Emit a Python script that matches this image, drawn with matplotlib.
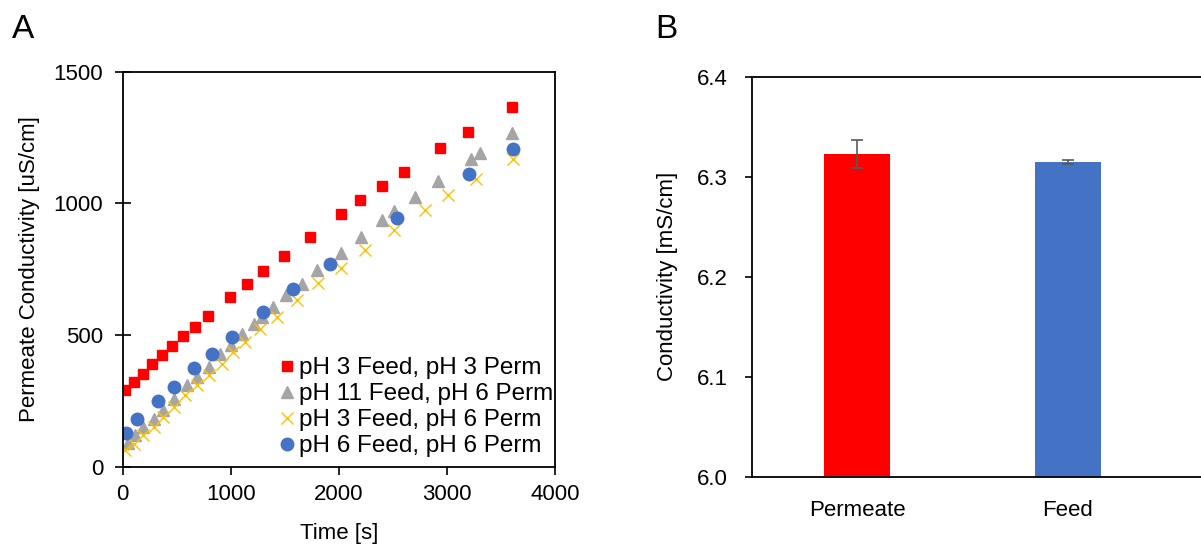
import matplotlib
matplotlib.use("Agg")
import matplotlib.pyplot as plt

plt.rcParams['font.family'] = ['Liberation Sans', 'DejaVu Sans']

# panel A: permeate conductivity over time
red_t = [20, 100, 185, 275, 360, 455, 560, 670, 785, 995, 1145, 1300, 1495, 1735, 2015, 2195, 2395, 2600, 2935, 3195, 3600]
red_y = [291, 323, 354, 390, 424, 458, 496, 532, 573, 646, 694, 743, 801, 873, 959, 1012, 1066, 1120, 1209, 1270, 1366]

gray_t = [45, 110, 190, 285, 375, 470, 590, 690, 795, 900, 1000, 1100, 1210, 1285, 1390, 1510, 1655, 1800,
          2015, 2200, 2395, 2505, 2700, 2920, 3220, 3305, 3600]
gray_y = [90, 122, 152, 184, 215, 259, 310, 342, 380, 430, 462, 506, 544, 570, 608, 652, 696, 747,
          812, 873, 936, 972, 1025, 1086, 1167, 1190, 1267]

yellow_t = [20, 100, 190, 285, 375, 470, 575, 685, 800, 915, 1020, 1130, 1270, 1425, 1610, 1810, 2015,
            2240, 2505, 2800, 3010, 3270, 3610]
yellow_y = [63, 89, 120, 152, 190, 228, 272, 310, 348, 390, 437, 475, 525, 570, 635, 699, 755,
            822, 898, 977, 1032, 1092, 1170]

blue_t = [30, 130, 325, 470, 660, 825, 1010, 1295, 1575, 1920, 2540, 3200, 3610]
blue_y = [128, 181, 250, 302, 375, 429, 492, 587, 674, 771, 946, 1112, 1208]

labels = ['pH 3 Feed, pH 3 Perm', 'pH 11 Feed, pH 6 Perm', 'pH 3 Feed, pH 6 Perm', 'pH 6 Feed, pH 6 Perm']

# panel B: conductivity bars
cats = ['Permeate', 'Feed']
cond = [6.323, 6.315]
cond_err = [0.014, 0.002]

fig = plt.figure(figsize=(12.01, 5.44), dpi=100)

ax1 = fig.add_axes([0.1022, 0.1415, 0.36, 0.7267])
ax1.plot(red_t, red_y, 's', color='#FF0000', ms=7.5, label=labels[0])
ax1.plot(gray_t, gray_y, '^', color='#A5A5A5', ms=8.5, label=labels[1])
ax1.plot(yellow_t, yellow_y, 'x', color='#FFC000', ms=9, mew=1.0, label=labels[2])
ax1.plot(blue_t, blue_y, 'o', color='#4472C4', ms=9, label=labels[3])
ax1.set_xlim(0, 4000)
ax1.set_ylim(0, 1500)
ax1.set_xticks([0, 1000, 2000, 3000, 4000])
ax1.set_yticks([0, 500, 1000, 1500])
ax1.tick_params(axis='y', direction='inout', length=12, width=1.2, labelsize=16, pad=8)
ax1.tick_params(axis='x', direction='out', length=6, width=1.2, labelsize=16, pad=6)
for s in ax1.spines.values():
    s.set_linewidth(1.3)
ax1.set_xlabel('Time [s]', fontsize=16, labelpad=13)
ax1.set_ylabel('Permeate Conductivity [uS/cm]', fontsize=16, labelpad=10)
ax1.legend(loc='lower right', bbox_to_anchor=(0.995, 0.025), frameon=False, fontsize=17.5,
           handlelength=0.6, handletextpad=0.2, labelspacing=0.16, borderpad=0, borderaxespad=0)

ax2 = fig.add_axes([0.6259, 0.1237, 0.3858, 0.7353])
xpos = list(range(len(cats)))
ax2.bar(xpos, cond, width=0.313, color=['#FF0000', '#4472C4'],
        yerr=cond_err, error_kw=dict(ecolor='#595959', elinewidth=1.2, capsize=4, capthick=1.2))
ax2.set_xlim(-0.5, 1.7)
ax2.set_ylim(6.0, 6.4)
ax2.set_yticks([6.0, 6.1, 6.2, 6.3, 6.4])
ax2.set_yticklabels(['6.0', '6.1', '6.2', '6.3', '6.4'])
ax2.set_xticks(xpos)
ax2.set_xticklabels(cats)
ax2.tick_params(axis='y', direction='out', length=5, width=1.2, labelsize=16, pad=12)
ax2.tick_params(axis='x', length=0, labelsize=16, pad=17)
for s in ax2.spines.values():
    s.set_linewidth(1.3)
ax2.set_ylabel('Conductivity [mS/cm]', fontsize=16, labelpad=14)

fig.text(0.010, 0.975, 'A', fontsize=24, va='top', ha='left')
fig.text(0.546, 0.975, 'B', fontsize=24, va='top', ha='left')

fig.savefig('out.png', dpi=100)
